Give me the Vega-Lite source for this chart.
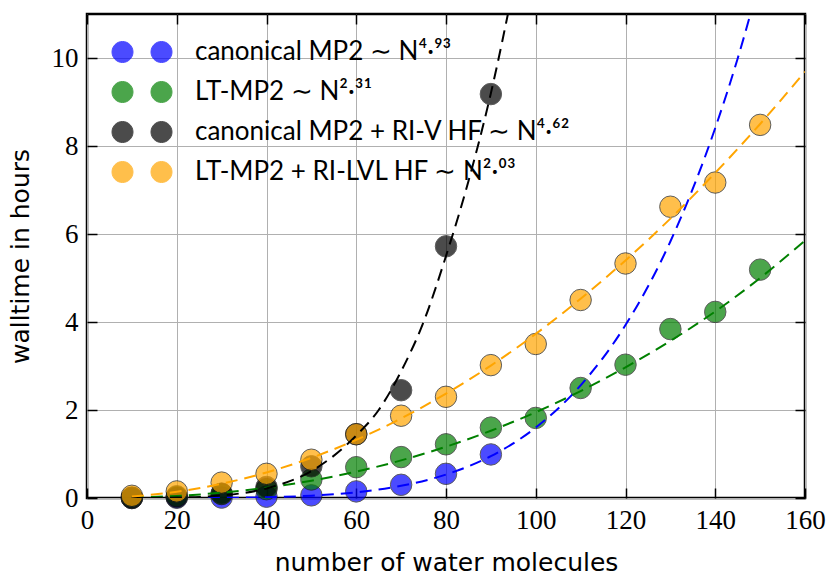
{
  "$schema": "https://vega.github.io/schema/vega-lite/v6.json",
  "width": 718,
  "height": 484,
  "autosize": "none",
  "padding": {"left": 87, "top": 14, "right": 25, "bottom": 78},
  "background": "white",
  "config": {
    "view": {"stroke": "black", "strokeWidth": 2.5},
    "axis": {
      "domain": false,
      "tickColor": "black",
      "tickWidth": 1.5,
      "tickSize": -10,
      "labelColor": "black",
      "titleColor": "black",
      "titleFontWeight": "normal",
      "gridColor": "#b0b0b0",
      "gridWidth": 1,
      "gridOpacity": 1,
      "labelFlush": false,
      "labelOverlap": false
    }
  },
  "datasets": {
    "points": [
      {"N": 10, "t": 0.0, "s": "canonical MP2"},
      {"N": 20, "t": 0.005, "s": "canonical MP2"},
      {"N": 30, "t": 0.01, "s": "canonical MP2"},
      {"N": 40, "t": 0.03, "s": "canonical MP2"},
      {"N": 50, "t": 0.06, "s": "canonical MP2"},
      {"N": 60, "t": 0.15, "s": "canonical MP2"},
      {"N": 70, "t": 0.3, "s": "canonical MP2"},
      {"N": 80, "t": 0.55, "s": "canonical MP2"},
      {"N": 90, "t": 0.99, "s": "canonical MP2"},
      {"N": 10, "t": 0.01, "s": "LT-MP2"},
      {"N": 20, "t": 0.04, "s": "LT-MP2"},
      {"N": 30, "t": 0.09, "s": "LT-MP2"},
      {"N": 40, "t": 0.2, "s": "LT-MP2"},
      {"N": 50, "t": 0.42, "s": "LT-MP2"},
      {"N": 60, "t": 0.7, "s": "LT-MP2"},
      {"N": 70, "t": 0.93, "s": "LT-MP2"},
      {"N": 80, "t": 1.22, "s": "LT-MP2"},
      {"N": 90, "t": 1.6, "s": "LT-MP2"},
      {"N": 100, "t": 1.82, "s": "LT-MP2"},
      {"N": 110, "t": 2.5, "s": "LT-MP2"},
      {"N": 120, "t": 3.03, "s": "LT-MP2"},
      {"N": 130, "t": 3.84, "s": "LT-MP2"},
      {"N": 140, "t": 4.23, "s": "LT-MP2"},
      {"N": 150, "t": 5.19, "s": "LT-MP2"},
      {"N": 10, "t": 0.0, "s": "canonical MP2 + RI-V HF"},
      {"N": 20, "t": 0.02, "s": "canonical MP2 + RI-V HF"},
      {"N": 30, "t": 0.1, "s": "canonical MP2 + RI-V HF"},
      {"N": 40, "t": 0.25, "s": "canonical MP2 + RI-V HF"},
      {"N": 50, "t": 0.72, "s": "canonical MP2 + RI-V HF"},
      {"N": 60, "t": 1.45, "s": "canonical MP2 + RI-V HF"},
      {"N": 70, "t": 2.45, "s": "canonical MP2 + RI-V HF"},
      {"N": 80, "t": 5.72, "s": "canonical MP2 + RI-V HF"},
      {"N": 90, "t": 9.18, "s": "canonical MP2 + RI-V HF"},
      {"N": 10, "t": 0.05, "s": "LT-MP2 + RI-LVL HF"},
      {"N": 20, "t": 0.15, "s": "LT-MP2 + RI-LVL HF"},
      {"N": 30, "t": 0.35, "s": "LT-MP2 + RI-LVL HF"},
      {"N": 40, "t": 0.55, "s": "LT-MP2 + RI-LVL HF"},
      {"N": 50, "t": 0.87, "s": "LT-MP2 + RI-LVL HF"},
      {"N": 60, "t": 1.45, "s": "LT-MP2 + RI-LVL HF"},
      {"N": 70, "t": 1.87, "s": "LT-MP2 + RI-LVL HF"},
      {"N": 80, "t": 2.3, "s": "LT-MP2 + RI-LVL HF"},
      {"N": 90, "t": 3.02, "s": "LT-MP2 + RI-LVL HF"},
      {"N": 100, "t": 3.5, "s": "LT-MP2 + RI-LVL HF"},
      {"N": 110, "t": 4.5, "s": "LT-MP2 + RI-LVL HF"},
      {"N": 120, "t": 5.33, "s": "LT-MP2 + RI-LVL HF"},
      {"N": 130, "t": 6.62, "s": "LT-MP2 + RI-LVL HF"},
      {"N": 140, "t": 7.17, "s": "LT-MP2 + RI-LVL HF"},
      {"N": 150, "t": 8.48, "s": "LT-MP2 + RI-LVL HF"}
    ],
    "fits": [
      {"N": 10, "t": 0.00002, "s": "canonical MP2"},
      {"N": 20, "t": 0.0006, "s": "canonical MP2"},
      {"N": 30, "t": 0.0042, "s": "canonical MP2"},
      {"N": 40, "t": 0.0175, "s": "canonical MP2"},
      {"N": 50, "t": 0.0525, "s": "canonical MP2"},
      {"N": 60, "t": 0.129, "s": "canonical MP2"},
      {"N": 70, "t": 0.276, "s": "canonical MP2"},
      {"N": 80, "t": 0.533, "s": "canonical MP2"},
      {"N": 90, "t": 0.952, "s": "canonical MP2"},
      {"N": 100, "t": 1.6, "s": "canonical MP2"},
      {"N": 110, "t": 2.56, "s": "canonical MP2"},
      {"N": 120, "t": 3.93, "s": "canonical MP2"},
      {"N": 130, "t": 5.83, "s": "canonical MP2"},
      {"N": 140, "t": 8.41, "s": "canonical MP2"},
      {"N": 145, "t": 9.99, "s": "canonical MP2"},
      {"N": 150, "t": 11.8, "s": "canonical MP2"},
      {"N": 10, "t": 0.0096, "s": "LT-MP2"},
      {"N": 20, "t": 0.047, "s": "LT-MP2"},
      {"N": 30, "t": 0.121, "s": "LT-MP2"},
      {"N": 40, "t": 0.235, "s": "LT-MP2"},
      {"N": 50, "t": 0.393, "s": "LT-MP2"},
      {"N": 60, "t": 0.599, "s": "LT-MP2"},
      {"N": 70, "t": 0.855, "s": "LT-MP2"},
      {"N": 80, "t": 1.165, "s": "LT-MP2"},
      {"N": 90, "t": 1.529, "s": "LT-MP2"},
      {"N": 100, "t": 1.95, "s": "LT-MP2"},
      {"N": 110, "t": 2.43, "s": "LT-MP2"},
      {"N": 120, "t": 2.97, "s": "LT-MP2"},
      {"N": 130, "t": 3.57, "s": "LT-MP2"},
      {"N": 140, "t": 4.24, "s": "LT-MP2"},
      {"N": 150, "t": 5.0, "s": "LT-MP2"},
      {"N": 160, "t": 5.85, "s": "LT-MP2"},
      {"N": 10, "t": 0.0004, "s": "canonical MP2 + RI-V HF"},
      {"N": 20, "t": 0.009, "s": "canonical MP2 + RI-V HF"},
      {"N": 30, "t": 0.058, "s": "canonical MP2 + RI-V HF"},
      {"N": 40, "t": 0.218, "s": "canonical MP2 + RI-V HF"},
      {"N": 50, "t": 0.611, "s": "canonical MP2 + RI-V HF"},
      {"N": 60, "t": 1.42, "s": "canonical MP2 + RI-V HF"},
      {"N": 65, "t": 2.0, "s": "canonical MP2 + RI-V HF"},
      {"N": 70, "t": 2.88, "s": "canonical MP2 + RI-V HF"},
      {"N": 75, "t": 4.0, "s": "canonical MP2 + RI-V HF"},
      {"N": 80, "t": 5.5, "s": "canonical MP2 + RI-V HF"},
      {"N": 85, "t": 7.2, "s": "canonical MP2 + RI-V HF"},
      {"N": 90, "t": 9.2, "s": "canonical MP2 + RI-V HF"},
      {"N": 95, "t": 11.6, "s": "canonical MP2 + RI-V HF"},
      {"N": 10, "t": 0.035, "s": "LT-MP2 + RI-LVL HF"},
      {"N": 20, "t": 0.142, "s": "LT-MP2 + RI-LVL HF"},
      {"N": 30, "t": 0.324, "s": "LT-MP2 + RI-LVL HF"},
      {"N": 40, "t": 0.581, "s": "LT-MP2 + RI-LVL HF"},
      {"N": 50, "t": 0.913, "s": "LT-MP2 + RI-LVL HF"},
      {"N": 60, "t": 1.322, "s": "LT-MP2 + RI-LVL HF"},
      {"N": 70, "t": 1.808, "s": "LT-MP2 + RI-LVL HF"},
      {"N": 80, "t": 2.372, "s": "LT-MP2 + RI-LVL HF"},
      {"N": 90, "t": 3.01, "s": "LT-MP2 + RI-LVL HF"},
      {"N": 100, "t": 3.73, "s": "LT-MP2 + RI-LVL HF"},
      {"N": 110, "t": 4.53, "s": "LT-MP2 + RI-LVL HF"},
      {"N": 120, "t": 5.4, "s": "LT-MP2 + RI-LVL HF"},
      {"N": 130, "t": 6.35, "s": "LT-MP2 + RI-LVL HF"},
      {"N": 140, "t": 7.39, "s": "LT-MP2 + RI-LVL HF"},
      {"N": 150, "t": 8.5, "s": "LT-MP2 + RI-LVL HF"},
      {"N": 160, "t": 9.69, "s": "LT-MP2 + RI-LVL HF"}
    ]
  },
  "layer": [
    {
      "data": {"name": "points"},
      "mark": {"type": "circle", "size": 460, "opacity": 0.7, "stroke": "#1a1a1a", "strokeWidth": 1},
      "encoding": {
        "x": {
          "field": "N", "type": "quantitative",
          "scale": {"domain": [0, 160], "nice": false, "zero": false},
          "axis": {
            "orient": "bottom",
            "values": [0, 20, 40, 60, 80, 100, 120, 140, 160],
            "title": "number of water molecules",
            "titleFont": "DejaVu Sans", "titleFontSize": 25, "titlePadding": 17,
            "labelFont": "Liberation Serif", "labelFontSize": 27, "labelPadding": 19,
            "grid": true
          }
        },
        "y": {
          "field": "t", "type": "quantitative",
          "scale": {"domain": [0, 11], "nice": false, "zero": false},
          "axis": {
            "orient": "left",
            "values": [0, 2, 4, 6, 8, 10],
            "title": "walltime in hours",
            "titleFont": "DejaVu Sans", "titleFontSize": 25, "titlePadding": 18,
            "labelFont": "Liberation Serif", "labelFontSize": 27, "labelPadding": 19,
            "grid": true
          }
        },
        "fill": {
          "field": "s", "type": "nominal",
          "scale": {
            "domain": ["canonical MP2", "LT-MP2", "canonical MP2 + RI-V HF", "LT-MP2 + RI-LVL HF"],
            "range": ["#0000ff", "#008000", "#000000", "#ffa500"]
          },
          "legend": {
            "orient": "none",
            "legendX": 42,
            "legendY": 25,
            "title": null,
            "padding": 0,
            "symbolType": "M -2.857 0 A 1 1 0 1 0 -0.857 0 A 1 1 0 1 0 -2.857 0 Z M 0.857 0 A 1 1 0 1 0 2.857 0 A 1 1 0 1 0 0.857 0 Z",
            "symbolSize": 441,
            "symbolOpacity": 0.7,
            "symbolStrokeColor": "#1a1a1a",
            "symbolStrokeWidth": 1,
            "labelFont": "Lato",
            "labelFontSize": 26,
            "labelColor": "black",
            "labelOffset": 40,
            "labelLimit": 0,
            "rowPadding": 14,
            "labelExpr": "datum.label == 'canonical MP2' ? 'canonical MP2 ∼ N⁴·⁹³' : datum.label == 'LT-MP2' ? 'LT-MP2 ∼ N²·³¹' : datum.label == 'canonical MP2 + RI-V HF' ? 'canonical MP2 + RI-V HF ∼ N⁴·⁶²' : 'LT-MP2 + RI-LVL HF ∼ N²·⁰³'"
          }
        }
      }
    },
    {
      "data": {"name": "fits"},
      "mark": {"type": "line", "strokeDash": [12, 7], "strokeWidth": 2, "clip": true, "interpolate": "monotone"},
      "encoding": {
        "x": {
          "field": "N", "type": "quantitative",
          "scale": {"domain": [0, 160], "nice": false, "zero": false},
          "axis": {"orient": "top", "values": [0, 20, 40, 60, 80, 100, 120, 140, 160], "labels": false, "title": null, "grid": false}
        },
        "y": {
          "field": "t", "type": "quantitative",
          "scale": {"domain": [0, 11], "nice": false, "zero": false},
          "axis": {"orient": "right", "values": [0, 2, 4, 6, 8, 10], "labels": false, "title": null, "grid": false}
        },
        "stroke": {
          "field": "s", "type": "nominal",
          "scale": {
            "domain": ["canonical MP2", "LT-MP2", "canonical MP2 + RI-V HF", "LT-MP2 + RI-LVL HF"],
            "range": ["#0000ff", "#008000", "#000000", "#ffa500"]
          },
          "legend": null
        }
      }
    }
  ],
  "resolve": {"axis": {"x": "independent", "y": "independent"}}
}
